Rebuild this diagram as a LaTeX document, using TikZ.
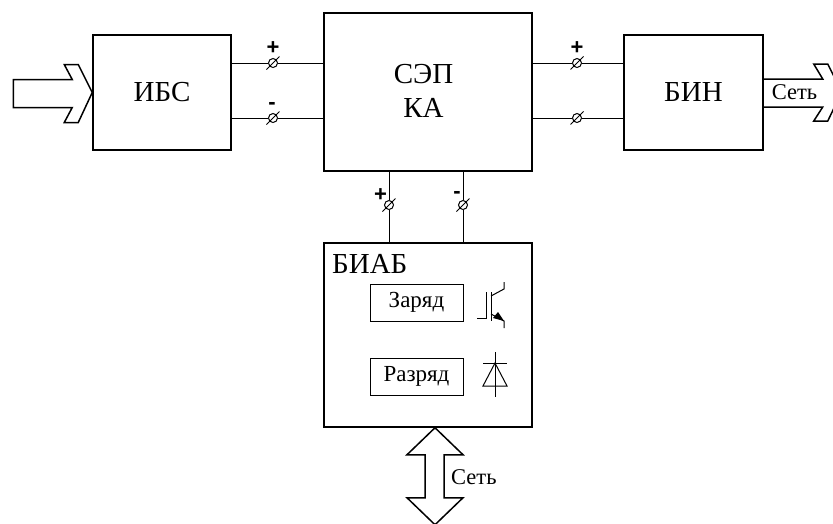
\documentclass[tikz,border=0pt]{standalone}
\usepackage{fontspec}
\setmainfont{Liberation Serif}
\newfontfamily\signfont{Liberation Sans}
\begin{document}
\begin{tikzpicture}[x=1pt,y=-1pt,
        block/.style={draw, line width=1.5pt, inner sep=0pt},
        title/.style={inner sep=0pt, font=\fontsize{29}{34}\selectfont, align=center},
        inner/.style={draw, line width=1pt, minimum width=93pt, minimum height=37pt, inner sep=0pt, font=\fontsize{23}{25}\selectfont},
        term/.style={circle, draw, line width=1pt, minimum size=9pt, inner sep=0pt},
        sign/.style={inner sep=0pt, font=\signfont\bfseries\fontsize{22}{22}\selectfont},
        wire/.style={line width=1pt},
        bigarrow/.style={draw, line width=1.5pt, line join=miter},
        label/.style={inner sep=0pt, font=\fontsize{22.5}{25}\selectfont}]
        \useasboundingbox (0,0) rectangle (833,523);
        \clip (0,0) rectangle (833,523);
        % blocks
        \node[block, title, minimum width=138pt, minimum height=115pt] (ibs) at (162,92.5) {ИБС};
        \node[block, minimum width=208pt, minimum height=158pt] (sep) at (428,92) {};
        \node[title] (sepname) at (423.5,91) {СЭП\\КА};
        \node[block, title, minimum width=139pt, minimum height=115pt] (bin) at (693.5,92.5) {БИН};
        \node[block, minimum width=208pt, minimum height=184pt] (biab) at (428,335) {};
        \node[inner] (charge) at (416.5,302.5) {Заряд};
        \node[inner] (discharge) at (416.5,376.5) {Разряд};
        \node[title, anchor=base west] (biabname) at (332,273) {БИАБ};
        % terminals
        \node[term] (t1) at (273,63) {};
        \node[term] (t2) at (273,118) {};
        \node[term] (t3) at (577,63) {};
        \node[term] (t4) at (577,118) {};
        \node[term] (t5) at (389,205) {};
        \node[term] (t6) at (463,205) {};
        \foreach \t in {t1,t2,t3,t4,t5,t6}
            \draw[wire] (\t) ++(-6.5,6.5) -- ++(13,-13);
        % wires
        \draw[wire] (ibs.east |- t1) -- (t1) -- (sep.west |- t1);
        \draw[wire] (ibs.east |- t2) -- (t2) -- (sep.west |- t2);
        \draw[wire] (sep.east |- t3) -- (t3) -- (bin.west |- t3);
        \draw[wire] (sep.east |- t4) -- (t4) -- (bin.west |- t4);
        \draw[wire] (sep.south -| t5) -- (t5) -- (biab.north -| t5);
        \draw[wire] (sep.south -| t6) -- (t6) -- (biab.north -| t6);
        % signs
        \node[sign] (plus1) at (273,48) {+};
        \node[sign] (minus1) at (272,106) {-};
        \node[sign] (plus2) at (577,48) {+};
        \node[sign] (plus3) at (380.5,195) {+};
        \node[sign] (minus2) at (457,195) {-};
        % power arrows
        \draw[bigarrow] (ibs.west) -- ++(-14,-28) -- ++(-14,0) -- ++(8,15) -- ++(-59,0) -- ++(0,28) -- ++(59,0) -- ++(-8,15) -- ++(14,0) -- cycle;
        \draw[bigarrow] (bin.east |- 0,79) -- ++(59,0) -- ++(-9,-15) -- ++(14,0) -- ++(14,28) -- ++(-14,29) -- ++(-14,0) -- ++(9,-14) -- ++(-59,0);
        \draw[bigarrow] (biab.south -| 435,0) -- ++(28,27) -- ++(-19,0) -- ++(0,43) -- ++(19,0) -- ++(-28,27) -- ++(-28,-27) -- ++(18,0) -- ++(0,-43) -- ++(-18,0) -- cycle;
        \node[label] (net1) at (794.5,92) {Сеть};
        \node[label, anchor=west] (net2) at (451,477) {Сеть};
        % transistor
        \draw[wire] (477,318) -- (486,318) -- (486,292);
        \draw[wire] (491,292) -- (491,321);
        \draw[wire] (491,296) -- (504,289) -- (504,282);
        \draw[wire] (491,314) -- (504,321) -- (504,328);
        \fill (504,321) -- (493,318) -- (498,312) -- cycle;
        % diode
        \draw[wire] (495,352) -- (495,397);
        \draw[wire] (483,363) -- (507,363);
        \draw[wire] (495,363) -- (507,386) -- (483,386) -- cycle;
    \end{tikzpicture}
\end{document}
